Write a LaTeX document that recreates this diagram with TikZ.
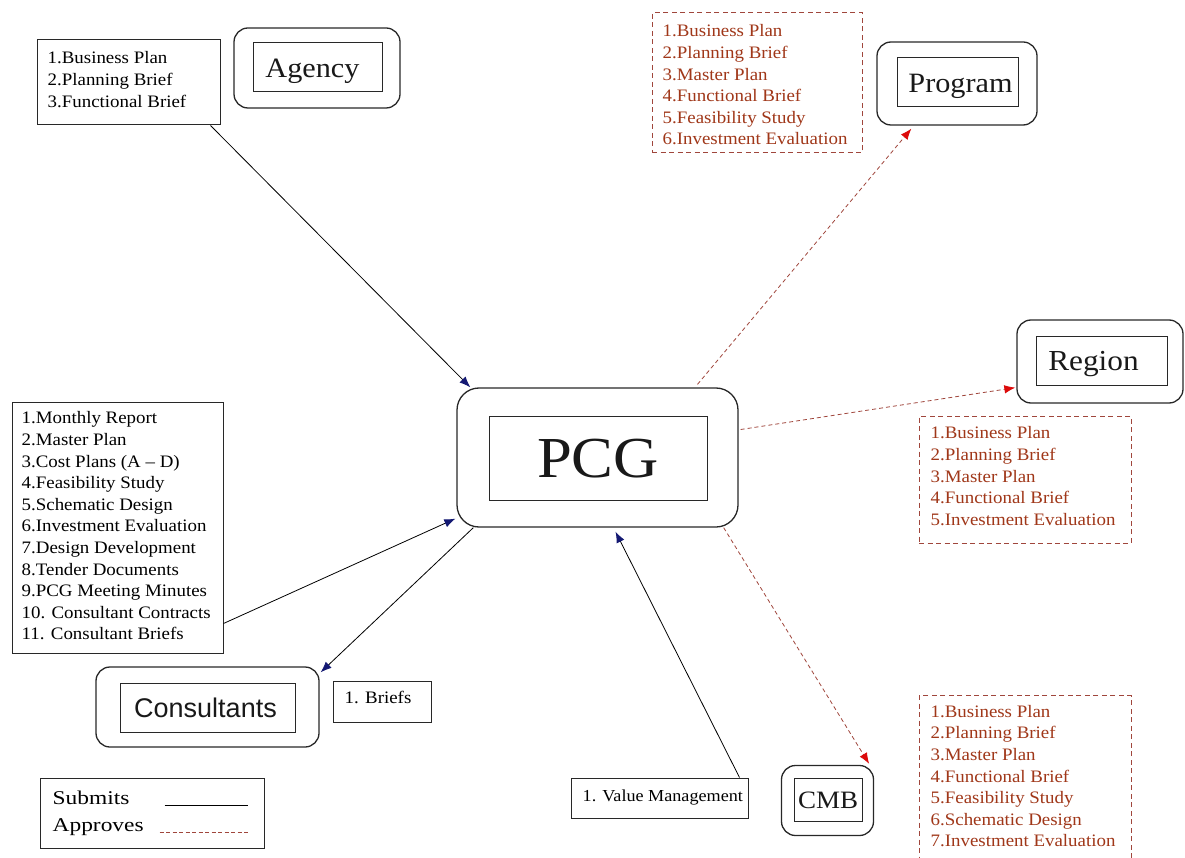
\documentclass[tikz,border=0pt]{standalone}
\usepackage{fontspec}
\setmainfont{Liberation Serif}[FakeStretch=1.08]
\newfontfamily\sansf{Liberation Sans}
\newfontfamily\legendf{Liberation Serif}[FakeStretch=1.2]
\usetikzlibrary{arrows.meta,calc}
\definecolor{apptext}{RGB}{160,55,25}
\definecolor{appline}{RGB}{160,70,60}
\definecolor{tipred}{RGB}{220,10,10}
\definecolor{navyblue}{RGB}{20,25,115}
\definecolor{boxline}{RGB}{40,40,40}
\tikzset{
  outerbox/.style={draw=boxline, line width=1.3pt, rounded corners=14pt, inner sep=0pt},
  innerbox/.style={draw=boxline, line width=1pt, inner sep=0pt},
  plainbox/.style={draw=boxline, line width=1pt, inner sep=0pt},
  dashbox/.style={draw=appline, line width=1pt, dash pattern=on 5pt off 3.5pt, inner sep=0pt},
  listtext/.style={anchor=north west, inner sep=0pt, align=left, font=\fontsize{17.5}{21.6}\selectfont},
  redtext/.style={listtext, text=apptext},
  title/.style={inner sep=0pt, anchor=base, text=black!90},
  subm/.style={draw=black, line width=0.8pt, -{Latex[length=11pt,width=8.5pt,color=navyblue]}},
  appr/.style={draw=appline, line width=0.8pt, dash pattern=on 4pt off 3pt, -{Latex[length=11pt,width=8.5pt,color=tipred]}},
}
\begin{document}
\begin{tikzpicture}[x=1pt,y=-1pt]
\useasboundingbox (0,0) rectangle (1185,858);
\fill[white] (0,0) rectangle (1185,858);

% ---- Agency ----
\node[plainbox, minimum width=183pt, minimum height=85pt] (alist) at (128.5,82.5) {};
\node[listtext] (alisttxt) at ($(alist.north west)+(11,12)$) {1.Business Plan\\2.Planning Brief\\3.Functional Brief};
\node[outerbox, minimum width=166pt, minimum height=80pt] (agency) at (317,68) {};
\node[innerbox, minimum width=129pt, minimum height=49pt] (agencyin) at (317.5,67.5) {};
\node[title, font=\fontsize{28}{30}\selectfont] (agencytxt) at ($(agencyin.center)+(-5,10)$) {Agency};

% ---- Program ----
\node[dashbox, minimum width=210pt, minimum height=140pt] (plist) at (757,83) {};
\node[redtext] (plisttxt) at ($(plist.north west)+(11,12)$) {1.Business Plan\\2.Planning Brief\\3.Master Plan\\4.Functional Brief\\5.Feasibility Study\\6.Investment Evaluation};
\node[outerbox, minimum width=160pt, minimum height=83pt] (prog) at (957,83.5) {};
\node[innerbox, minimum width=121pt, minimum height=49pt] (progin) at (957.5,82.5) {};
\node[title, font=\fontsize{28}{30}\selectfont] (progtxt) at ($(progin.center)+(3,10)$) {Program};

% ---- Region ----
\node[outerbox, minimum width=166pt, minimum height=83pt] (region) at (1100,361.5) {};
\node[innerbox, minimum width=131pt, minimum height=49pt] (regionin) at (1101.5,360.5) {};
\node[title, font=\fontsize{29}{30}\selectfont] (regiontxt) at ($(regionin.center)+(-8,10)$) {Region};
\node[dashbox, minimum width=212pt, minimum height=127pt] (rlist) at (1025,479.5) {};
\node[redtext] (rlisttxt) at ($(rlist.north west)+(12,11)$) {1.Business Plan\\2.Planning Brief\\3.Master Plan\\4.Functional Brief\\5.Investment Evaluation};

% ---- PCG ----
\node[outerbox, rounded corners=22pt, minimum width=281pt, minimum height=139pt] (pcg) at (597.5,457.5) {};
\node[innerbox, minimum width=218pt, minimum height=84pt] (pcgin) at (598,458) {};
\node[title, font=\fontsize{58}{60}\selectfont] (pcgtxt) at ($(pcgin.center)+(0,19)$) {PCG};

% ---- Left list ----
\node[plainbox, minimum width=211pt, minimum height=251pt] (llist) at (117.5,527.5) {};
\node[listtext] (llisttxt) at ($(llist.north west)+(10,10)$) {1.Monthly Report\\2.Master Plan\\3.Cost Plans (A – D)\\4.Feasibility Study\\5.Schematic Design\\6.Investment Evaluation\\7.Design Development\\8.Tender Documents\\9.PCG Meeting Minutes\\10. Consultant Contracts\\11. Consultant Briefs};

% ---- Consultants ----
\node[outerbox, minimum width=223pt, minimum height=80pt] (cons) at (207.5,707) {};
\node[innerbox, minimum width=175pt, minimum height=49pt] (consin) at (207.5,707.5) {};
\node[title, font=\sansf\fontsize{27}{28}\selectfont] (constxt) at ($(consin.center)+(-2,10)$) {Consultants};
\node[plainbox, minimum width=98pt, minimum height=41pt] (briefs) at (382,701.5) {};
\node[listtext, anchor=west] (briefstxt) at ($(briefs.west)+(12,-4)$) {1. Briefs};

% ---- Value management / CMB ----
\node[plainbox, minimum width=177pt, minimum height=40pt] (vm) at (659.5,798) {};
\node[listtext, anchor=west, font=\fontsize{16.8}{20}\selectfont] (vmtxt) at ($(vm.west)+(12,-1)$) {1. Value Management};
\node[outerbox, minimum width=92pt, minimum height=70pt] (cmb) at (827.5,800.5) {};
\node[innerbox, minimum width=68pt, minimum height=43pt] (cmbin) at (828,799.5) {};
\node[title, font=\fontsize{25}{26}\selectfont] (cmbtxt) at ($(cmbin.center)+(0,8.5)$) {CMB};
\node[dashbox, minimum width=212pt, minimum height=163pt] (clist) at (1025,777) {};
\node[redtext] (clisttxt) at ($(clist.north west)+(12,10)$) {1.Business Plan\\2.Planning Brief\\3.Master Plan\\4.Functional Brief\\5.Feasibility Study\\6.Schematic Design\\7.Investment Evaluation};

% ---- Legend ----
\node[plainbox, minimum width=224pt, minimum height=70pt] (legend) at (152,813) {};
\node[listtext, anchor=west, font=\legendf\fontsize{19.5}{22}\selectfont] (legsub) at ($(legend.west)+(13,-15)$) {Submits};
\node[listtext, anchor=west, font=\legendf\fontsize{19.5}{22}\selectfont] (legapp) at ($(legend.west)+(13,14)$) {Approves};
\coordinate (subA) at ($(legend.west)+(125,-8)$);
\coordinate (subB) at ($(legend.west)+(208,-8)$);
\coordinate (appA) at ($(legend.west)+(120,19)$);
\coordinate (appB) at ($(legend.west)+(208,19)$);
\draw[black, line width=0.9pt] (subA) -- (subB);
\draw[appline, line width=1pt, dash pattern=on 4pt off 2.5pt] (appA) -- (appB);

% ---- Connectors ----
\draw[subm] ($(alist.south east)+(-10,0)$) -- ($(pcg.north west)+(14,0)$);
\draw[appr] ($(pcg.north)+(100,-3)$) -- ($(prog.south west)+(35,3)$);
\draw[appr] ($(pcg.east)+(2,-28)$) -- ($(region.south west)+(-1,-16)$);
\draw[appr] ($(pcg.south east)+(-15,0)$) -- ($(cmb.north east)+(-5,-1)$);
\draw[subm] ($(llist.south east)+(0,-30)$) -- ($(pcg.south west)+(-1,-9)$);
\draw[subm] ($(pcg.south west)+(17,0)$) -- ($(cons.north east)+(1,6)$);
\draw[subm] ($(vm.north east)+(-9,0)$) -- ($(pcg.south)+(18,4)$);
\end{tikzpicture}
\end{document}
